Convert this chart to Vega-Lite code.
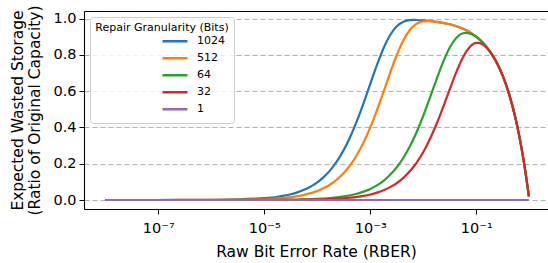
{
  "$schema": "https://vega.github.io/schema/vega-lite/v6.json",
  "width": 464,
  "height": 198,
  "autosize": {"type": "none"},
  "padding": {"left": 84, "top": 11, "right": 0, "bottom": 54},
  "background": "white",
  "config": {"font": "DejaVu Sans", "view": {"stroke": null}},
  "data": {"values": [
    {"rber": 1e-8, "1024": 0.0000102, "512": 0.0000051, "64": 0.00000063, "32": 0.00000031, "1": 0},
    {"rber": 3.162e-8, "1024": 0.0000323, "512": 0.0000162, "64": 0.000002, "32": 0.00000098, "1": 0},
    {"rber": 1e-7, "1024": 0.000102, "512": 0.0000511, "64": 0.0000063, "32": 0.0000031, "1": 0},
    {"rber": 3.162e-7, "1024": 0.000323, "512": 0.0001616, "64": 0.0000199, "32": 0.0000098, "1": 0},
    {"rber": 1e-6, "1024": 0.0010225, "512": 0.000511, "64": 0.000063, "32": 0.000031, "1": 0},
    {"rber": 3.162e-6, "1024": 0.00323, "512": 0.001614, "64": 0.000199, "32": 0.000098, "1": 0},
    {"rber": 1e-5, "1024": 0.010178, "512": 0.005097, "64": 0.00063, "32": 0.00031, "1": 0},
    {"rber": 1.3335e-5, "1024": 0.013549, "512": 0.006791, "64": 0.00084, "32": 0.000413, "1": 0},
    {"rber": 1.7783e-5, "1024": 0.018025, "512": 0.009044, "64": 0.00112, "32": 0.000551, "1": 0},
    {"rber": 2.3714e-5, "1024": 0.023967, "512": 0.012045, "64": 0.001493, "32": 0.000735, "1": 0},
    {"rber": 3.1623e-5, "1024": 0.031829, "512": 0.016027, "64": 0.00199, "32": 0.00098, "1": 0},
    {"rber": 4.217e-5, "1024": 0.042222, "512": 0.021318, "64": 0.002653, "32": 0.001306, "1": 0},
    {"rber": 5.6234e-5, "1024": 0.05589, "512": 0.028324, "64": 0.003536, "32": 0.001742, "1": 0},
    {"rber": 7.4989e-5, "1024": 0.07384, "512": 0.037593, "64": 0.004713, "32": 0.002322, "1": 0},
    {"rber": 1e-4, "1024": 0.09724, "512": 0.049814, "64": 0.00628, "32": 0.003095, "1": 0},
    {"rber": 1.3335e-4, "1024": 0.12751, "512": 0.06587, "64": 0.008365, "32": 0.004125, "1": 0},
    {"rber": 1.7783e-4, "1024": 0.16629, "512": 0.08684, "64": 0.011138, "32": 0.005496, "1": 0},
    {"rber": 2.3714e-4, "1024": 0.21538, "512": 0.11411, "64": 0.014827, "32": 0.007324, "1": 0},
    {"rber": 3.1623e-4, "1024": 0.27634, "512": 0.14917, "64": 0.01972, "32": 0.009753, "1": 0},
    {"rber": 4.217e-4, "1024": 0.35031, "512": 0.19381, "64": 0.026211, "32": 0.012985, "1": 0},
    {"rber": 5.6234e-4, "1024": 0.43727, "512": 0.24966, "64": 0.034795, "32": 0.017276, "1": 0},
    {"rber": 7.4989e-4, "1024": 0.53539, "512": 0.31818, "64": 0.04613, "32": 0.02297, "1": 0},
    {"rber": 1e-3, "1024": 0.64003, "512": 0.39986, "64": 0.061025, "32": 0.030509, "1": 0},
    {"rber": 1.3335e-3, "1024": 0.74365, "512": 0.49367, "64": 0.08052, "32": 0.04047, "1": 0},
    {"rber": 1.7783e-3, "1024": 0.83657, "512": 0.59616, "64": 0.105866, "32": 0.053585, "1": 0},
    {"rber": 2.3714e-3, "1024": 0.9097, "512": 0.70109, "64": 0.1386, "32": 0.07079, "1": 0},
    {"rber": 3.1623e-3, "1024": 0.95779, "512": 0.79924, "64": 0.180305, "32": 0.093225, "1": 0},
    {"rber": 4.217e-3, "1024": 0.98258, "512": 0.88088, "64": 0.23275, "32": 0.12227, "1": 0},
    {"rber": 5.6234e-3, "1024": 0.99127, "512": 0.93864, "64": 0.29732, "32": 0.15948, "1": 0},
    {"rber": 6.78e-3, "1024": 0.99228, "512": 0.96251, "64": 0.34621, "32": 0.18885, "1": 0},
    {"rber": 7.4989e-3, "1024": 0.99205, "512": 0.97132, "64": 0.37479, "32": 0.20655, "1": 0},
    {"rber": 0.01, "1024": 0.98997, "512": 0.98418, "64": 0.4644, "32": 0.26502, "1": 0},
    {"rber": 0.01221, "1024": 0.98779, "512": 0.98586, "64": 0.53224, "32": 0.31284, "1": 0},
    {"rber": 0.013335, "1024": 0.98666, "512": 0.98563, "64": 0.56316, "32": 0.33589, "1": 0},
    {"rber": 0.017783, "1024": 0.98222, "512": 0.98212, "64": 0.66506, "32": 0.41905, "1": 0},
    {"rber": 0.023714, "1024": 0.97629, "512": 0.97628, "64": 0.76104, "32": 0.51234, "1": 0},
    {"rber": 0.031623, "1024": 0.96838, "512": 0.96838, "64": 0.84048, "32": 0.61076, "1": 0},
    {"rber": 0.04217, "1024": 0.95783, "512": 0.95783, "64": 0.89438, "32": 0.70593, "1": 0},
    {"rber": 0.056234, "1024": 0.94377, "512": 0.94377, "64": 0.91914, "32": 0.78685, "1": 0},
    {"rber": 0.066, "1024": 0.934, "512": 0.934, "64": 0.92135, "32": 0.82151, "1": 0},
    {"rber": 0.074989, "1024": 0.92501, "512": 0.92501, "64": 0.9182, "32": 0.84247, "1": 0},
    {"rber": 0.1, "1024": 0.9, "512": 0.9, "64": 0.89882, "32": 0.86566, "1": 0},
    {"rber": 0.1118, "1024": 0.8882, "512": 0.8882, "64": 0.88769, "32": 0.86568, "1": 0},
    {"rber": 0.13335, "1024": 0.86665, "512": 0.86665, "64": 0.86654, "32": 0.85641, "1": 0},
    {"rber": 0.17783, "1024": 0.82217, "512": 0.82217, "64": 0.82217, "32": 0.82027, "1": 0},
    {"rber": 0.23714, "1024": 0.76286, "512": 0.76286, "64": 0.76286, "32": 0.76269, "1": 0},
    {"rber": 0.31623, "1024": 0.68377, "512": 0.68377, "64": 0.68377, "32": 0.68377, "1": 0},
    {"rber": 0.4217, "1024": 0.5783, "512": 0.5783, "64": 0.5783, "32": 0.5783, "1": 0},
    {"rber": 0.56234, "1024": 0.43766, "512": 0.43766, "64": 0.43766, "32": 0.43766, "1": 0},
    {"rber": 0.74989, "1024": 0.25011, "512": 0.25011, "64": 0.25011, "32": 0.25011, "1": 0},
    {"rber": 0.85, "1024": 0.15, "512": 0.15, "64": 0.15, "32": 0.15, "1": 0},
    {"rber": 0.9, "1024": 0.1, "512": 0.1, "64": 0.1, "32": 0.1, "1": 0},
    {"rber": 0.95, "1024": 0.05, "512": 0.05, "64": 0.05, "32": 0.05, "1": 0},
    {"rber": 0.98, "1024": 0.02, "512": 0.02, "64": 0.02, "32": 0.02, "1": 0}
  ]},
  "transform": [{"fold": ["1024", "512", "64", "32", "1"], "as": ["bits", "waste"]}],
  "encoding": {
    "y": {
      "field": "waste", "type": "quantitative",
      "scale": {"domain": [-0.0496, 1.0417], "nice": false, "zero": false},
      "axis": {
        "values": [0, 0.2, 0.4, 0.6, 0.8, 1.0], "format": ".1f",
        "title": ["Expected Wasted Storage", "(Ratio of Original Capacity)"],
        "titleFontSize": 15.5, "titleFontWeight": "normal", "titleColor": "black", "titleLineHeight": 17, "titlePadding": 10,
        "labelFontSize": 14.5, "labelColor": "black", "labelPadding": 3,
        "tickColor": "black", "tickSize": 5, "domainColor": "black", "domainWidth": 1.1,
        "grid": true, "gridDash": [5, 3], "gridColor": "#b0b0b0", "gridWidth": 1
      }
    }
  },
  "layer": [
    {
      "mark": {"type": "line", "strokeWidth": 2.2, "interpolate": "monotone"},
      "encoding": {
        "x": {
          "field": "rber", "type": "quantitative",
          "scale": {"type": "log", "domain": [3.963e-9, 2.254], "nice": false},
          "axis": {
            "values": [1e-7, 1e-5, 1e-3, 1e-1],
            "labelExpr": "datum.value < 3e-7 ? '10⁻⁷' : datum.value < 3e-5 ? '10⁻⁵' : datum.value < 3e-3 ? '10⁻³' : '10⁻¹'",
            "title": "Raw Bit Error Rate (RBER)",
            "titleFontSize": 15.5, "titleFontWeight": "normal", "titleColor": "black", "titlePadding": 10,
            "labelFontSize": 14.5, "labelColor": "black", "labelPadding": 7,
            "tickColor": "black", "tickSize": 5, "domainColor": "black", "domainWidth": 1.1, "grid": false
          }
        },
        "color": {
          "field": "bits", "type": "nominal",
          "scale": {"domain": ["1024", "512", "64", "32", "1"], "range": ["#1f77b4", "#ff7f0e", "#2ca02c", "#d62728", "#9467bd"]},
          "legend": {
            "orient": "none", "legendX": 6, "legendY": 6,
            "title": "Repair Granularity (Bits)", "titleFontSize": 11, "titleFontWeight": "normal", "titleColor": "black",
            "titleAnchor": "middle", "titlePadding": 0,
            "labelFontSize": 11, "labelColor": "black",
            "symbolType": "stroke", "symbolSize": 625, "symbolStrokeWidth": 2.5,
            "symbolOffset": 62, "labelOffset": 8, "rowPadding": 0, "clipHeight": 16.5,
            "padding": 5, "strokeColor": "#cccccc", "fillColor": "rgba(255,255,255,0.8)", "cornerRadius": 3
          }
        }
      }
    },
    {
      "mark": {"type": "line", "opacity": 0},
      "encoding": {
        "x": {
          "field": "rber", "type": "quantitative",
          "axis": {"orient": "top", "labels": false, "ticks": false, "grid": false, "title": null, "domainColor": "black", "domainWidth": 1.1}
        }
      }
    }
  ],
  "resolve": {"axis": {"x": "independent"}}
}
